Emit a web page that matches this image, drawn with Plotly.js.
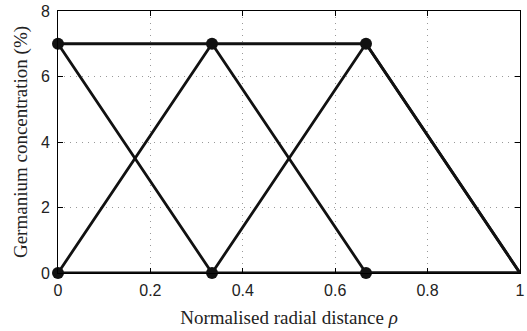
<!DOCTYPE html>
<html><head><meta charset="utf-8">
<script src="https://cdn.plot.ly/plotly-3.0.1.min.js"></script>
<style>html,body{margin:0;padding:0;background:#fff}#plot{width:527px;height:331px}</style>
</head><body><div id="plot"></div>
<script>
const rho = [0, 1/3, 2/3, 1];
const basis1 = [7, 0, 0, 0];
const basis2 = [0, 7, 0, 0];
const basis3 = [0, 0, 7, 0];
const total = [7, 7, 7, 0];
const nodeX = [0, 1/3, 2/3, 0, 1/3, 2/3];
const nodeY = [7, 7, 7, 0, 0, 0];
const xTicks = [0, 0.2, 0.4, 0.6, 0.8, 1];
const xTickText = ['0', '0.2', '0.4', '0.6', '0.8', '1'];
const yTicks = [0, 2, 4, 6, 8];

const serif = '"Liberation Serif", "Times New Roman", Times, serif';
const sans = '"Liberation Sans", Arial, Helvetica, sans-serif';

const lineStyle = {color: '#111', width: 2.8};
const traces = [basis1, basis2, basis3, total].map(y => ({
  x: rho, y: y, mode: 'lines', line: lineStyle, hoverinfo: 'skip', showlegend: false, cliponaxis: false
}));
traces.push({x: nodeX, y: nodeY, mode: 'markers', marker: {color: '#111', size: 12}, showlegend: false, cliponaxis: false});

const axisCommon = {
  showline: true, linecolor: '#000', linewidth: 1, mirror: 'allticks',
  ticks: 'inside', ticklen: 5, tickcolor: '#000',
  showgrid: true, gridcolor: '#999', griddash: '1px,5px', gridwidth: 1,
  zeroline: false, tickfont: {family: sans, size: 16, color: '#222'}
};
const layout = {
  width: 527, height: 331,
  margin: {l: 58, r: 7, t: 11, b: 58},
  paper_bgcolor: '#fff', plot_bgcolor: '#fff',
  xaxis: Object.assign({}, axisCommon, {
    range: [0, 1], tickvals: xTicks, ticktext: xTickText, ticklabelstandoff: 3,
    title: {text: 'Normalised radial distance <i>ρ</i>', font: {family: serif, size: 19, color: '#222'}, standoff: 12}
  }),
  yaxis: Object.assign({}, axisCommon, {
    range: [0, 8], tickvals: yTicks, ticklabelstandoff: 4,
    title: {text: 'Germanium concentration (%)', font: {family: serif, size: 19, color: '#222'}, standoff: 8}
  })
};
Plotly.newPlot('plot', traces, layout, {displayModeBar: false, staticPlot: true});
</script></body></html>
